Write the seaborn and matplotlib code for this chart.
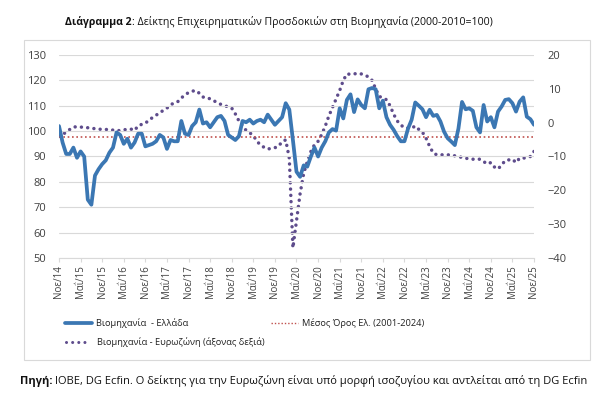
import numpy as np
import pandas as pd
import matplotlib
matplotlib.use("Agg")
import matplotlib.pyplot as plt
from matplotlib.lines import Line2D
from matplotlib.patches import Rectangle
import seaborn as sns

# ---------------- data ----------------
greece = [102, 95.5, 91, 91, 93.5, 89.5, 92, 90, 73, 71,
          82.5, 85, 87, 88.5, 91.5, 93.5, 99.5, 98.5, 95, 97,
          93.5, 95.5, 99, 99, 94, 94.5, 95, 96, 98.5, 97.5,
          93, 96.5, 96, 96, 104, 99, 98.5, 102, 103.5, 108.5,
          103, 103.5, 101.5, 103.5, 105.5, 106, 104, 98.5, 97.5, 96.5,
          98, 104, 103.5, 104.5, 103, 104, 104.5, 103.5, 106.5, 104.5,
          102.5, 104, 105.5, 111, 108.5, 96.5, 84, 82, 86.5, 86,
          90, 93.5, 90, 93.5, 96, 99.5, 100.8, 100.2, 109, 105,
          112.3, 114.5, 107.5, 112.5, 110.3, 109, 116.5, 117, 116.5, 109,
          112, 105.5, 102.5, 100.5, 98, 96, 96, 101, 104.5, 111.3,
          110, 108.6, 105.5, 108.4, 106, 106.4, 103.8, 99.8, 97.2, 95.9,
          94.5, 101, 111.5, 108.6, 109, 108, 101.5, 99.5, 110.3, 103.8,
          105.5, 101.5, 107.7, 109.7, 112.3, 112.6, 111, 107.7, 111.6, 113.3,
          105.7, 104.7, 102.5]

eurozone = [-4.0, -3.5, -2.8, -2.0, -1.3, -1.2, -1.3, -1.4, -1.5, -1.6,
            -1.8, -1.9, -2.0, -2.0, -2.1, -2.2, -2.4, -2.3, -2.1, -2.0,
            -1.9, -2.3, -0.9, -0.5, -0.2, 0.8, 1.5, 2.2, 3.0, 3.6,
            4.3, 5.3, 5.8, 6.2, 7.3, 8.2, 8.9, 9.3, 9.5, 8.7,
            7.6, 7.2, 7.1, 6.5, 5.9, 5.4, 5.0, 4.7, 4.3, 2.6,
            0.5, -0.9, -2.3, -3.0, -3.8, -5.5, -6.6, -7.3, -7.8, -7.6,
            -7.4, -7.0, -5.6, -5.1, -10.5, -37.0, -29.0, -21.0, -15.0, -11.5,
            -8.5, -6.5, -5.5, -3.5, -1.0, 2.0, 4.5, 7.0, 9.5, 12.5,
            14.4, 14.3, 14.4, 14.6, 14.4, 14.1, 13.5, 12.5, 10.0, 7.8,
            7.2, 6.8, 5.0, 2.5, 0.5, -0.7, -1.5, -1.6, -1.6, -1.0,
            -2.0, -2.8, -4.6, -7.0, -9.0, -9.5, -9.5, -9.5, -9.5, -9.6,
            -9.8, -10.0, -10.3, -10.5, -10.7, -10.8, -10.8, -10.8, -11.5, -12.2,
            -11.8, -13.1, -13.7, -12.5, -11.2, -11.0, -10.8, -11.8, -10.5, -10.5,
            -10.3, -10.0, -8.5]

mean_greece = 97.5

tick_labels = ["Νοε/14", "Μαΐ/15", "Νοε/15", "Μαΐ/16", "Νοε/16", "Μαΐ/17",
               "Νοε/17", "Μαΐ/18", "Νοε/18", "Μαΐ/19", "Νοε/19", "Μαΐ/20",
               "Νοε/20", "Μαΐ/21", "Νοε/21", "Μαΐ/22", "Νοε/22", "Μαΐ/23",
               "Νοε/23", "Μαΐ/24", "Νοε/24", "Μαΐ/25", "Νοε/25"]

left_ticks = [50, 60, 70, 80, 90, 100, 110, 120, 130]
right_ticks = [-40, -30, -20, -10, 0, 10, 20]

legend_labels = ["Βιομηχανία  - Ελλάδα", "Μέσος Όρος Ελ. (2001-2024)",
                 "Βιομηχανία - Ευρωζώνη (άξονας δεξιά)"]

# ---------------- style ----------------
sns.set_style("white")
plt.rcParams["font.family"] = ["Open Sans", "DejaVu Sans"]

BLUE = "#3B77B3"
PURPLE = "#5E4C8C"
RED = "#C0504D"
TXT = "#404040"
GRID = "#D9D9D9"

W, H = 600, 399
fig = plt.figure(figsize=(6.0, 3.99), dpi=100)
ax = fig.add_axes([59 / W, 1 - 258 / H, (534 - 59) / W, (258 - 55) / H])
ax2 = ax.twinx()

df = pd.DataFrame({"m": np.arange(len(greece)), "gr": greece, "ez": eurozone})

ax.set_ylim(50, 130)
ax.set_yticks(left_ticks)
ax.grid(axis="y", color=GRID, lw=0.8)
ax.grid(axis="x", visible=False)
ax.set_axisbelow(True)

ax.axhline(mean_greece, color=RED, lw=1.2, ls=(0, (1.0, 1.6)), zorder=2)

sns.lineplot(data=df, x="m", y="ez", ax=ax2, color=PURPLE, lw=2.5,
             ls=(0, (0.01, 1.8)), dash_capstyle="round", zorder=3)
sns.lineplot(data=df, x="m", y="gr", ax=ax, color=BLUE, lw=2.7, zorder=4,
             solid_joinstyle="round")
ax.set_zorder(ax2.get_zorder() + 1)
ax.patch.set_visible(False)

ax2.set_ylim(-40, 20)
ax2.set_yticks(right_ticks)
ax2.grid(False)

xt = np.arange(0, len(greece), 6)
ax.set_xlim(0, len(greece) - 1)
ax.set_xticks(xt)
ax.set_xticklabels(tick_labels, rotation=90, fontsize=7, color=TXT)
ax.set_xlabel("")
ax.set_ylabel("")
ax2.set_ylabel("")

for a in (ax, ax2):
    for s in a.spines.values():
        s.set_visible(False)
ax.spines["bottom"].set_visible(True)
ax.spines["bottom"].set_color(GRID)
ax.spines["bottom"].set_linewidth(0.8)

ax.tick_params(axis="x", length=3, width=0.8, color=GRID, pad=2, bottom=True)
ax.tick_params(axis="y", length=0, pad=9, labelsize=8, labelcolor=TXT)
ax2.tick_params(axis="y", length=0, pad=10, labelsize=8, labelcolor=TXT)

# ---------------- frame ----------------
fig.add_artist(Rectangle((24 / W, 1 - 360 / H), 566 / W, 320 / H,
                         transform=fig.transFigure, fill=False,
                         edgecolor="#D9D9D9", lw=0.8))

# ---------------- legend (manual) ----------------
def fy(py):
    return 1 - py / H

LFS = 6.7
fig.add_artist(Line2D([65 / W, 92 / W], [fy(323), fy(323)], color=BLUE, lw=2.7,
                      transform=fig.transFigure))
fig.text(96 / W, fy(323), legend_labels[0], fontsize=LFS, color="#222222",
         va="center", ha="left")
fig.add_artist(Line2D([271 / W, 298 / W], [fy(323), fy(323)], color=RED, lw=1.0,
                      ls=(0, (1.0, 1.4)), transform=fig.transFigure))
fig.text(302 / W, fy(323), legend_labels[1], fontsize=LFS, color="#222222",
         va="center", ha="left")
fig.add_artist(Line2D([66 / W, 88 / W], [fy(342), fy(342)], color=PURPLE, lw=2.2,
                      ls=(0, (0.01, 2.0)), dash_capstyle="round",
                      transform=fig.transFigure))
fig.text(97 / W, fy(342), legend_labels[2], fontsize=LFS, color="#222222",
         va="center", ha="left")

# ---------------- title & footer ----------------
fig.canvas.draw()
r = fig.canvas.get_renderer()

TFS = 7.6
t1 = fig.text(65 / W, fy(22), "Διάγραμμα 2", fontsize=TFS, fontweight="bold",
              color="#111111", va="center", ha="left")
bb = t1.get_window_extent(r)
fig.text(bb.x1 / W, fy(22),
         ": Δείκτης Επιχειρηματικών Προσδοκιών στη Βιομηχανία (2000-2010=100)",
         fontsize=TFS, color="#111111", va="center", ha="left")

FFS = 8.0
f1 = fig.text(20 / W, fy(381), "Πηγή:", fontsize=FFS, fontweight="bold",
              color="#111111", va="center", ha="left")
bb = f1.get_window_extent(r)
fig.text(bb.x1 / W, fy(381),
         " IOBE, DG Ecfin. Ο δείκτης για την Ευρωζώνη είναι υπό μορφή ισοζυγίου και αντλείται από τη DG Ecfin",
         fontsize=FFS, color="#111111", va="center", ha="left")

fig.savefig("out.png", dpi=100)
